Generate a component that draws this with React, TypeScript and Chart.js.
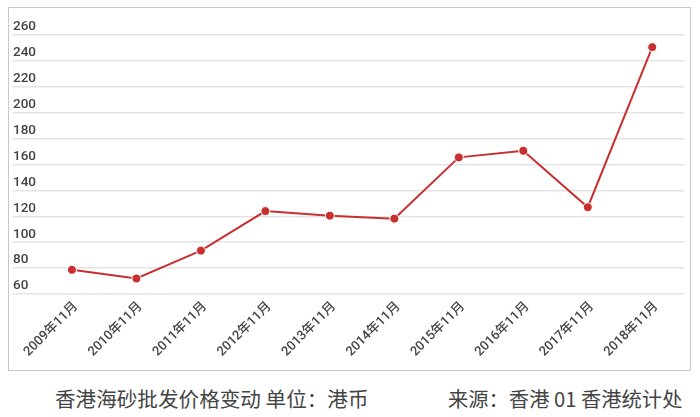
import React, { useEffect, useRef } from "react";
import { Chart, registerables } from "chart.js";

Chart.register(...registerables);

const categories = [
  "2009年11月", "2010年11月", "2011年11月", "2012年11月", "2013年11月",
  "2014年11月", "2015年11月", "2016年11月", "2017年11月", "2018年11月",
];
const prices = [78.7, 72, 93.5, 124, 120.5, 118.2, 165.5, 170.6, 127, 250.6];
const yMin = 60;
const yMax = 260;
const yStep = 20;
const captionLeft = "香港海砂批发价格变动 单位：港币";
const captionRight = "来源：香港 01 香港统计处";

export default function App() {
  const ref = useRef<HTMLCanvasElement | null>(null);

  useEffect(() => {
    if (!ref.current) return;
    const chart = new Chart(ref.current, {
      type: "line",
      data: {
        labels: categories,
        datasets: [
          {
            data: prices,
            borderColor: "#c8302f",
            backgroundColor: "#c8302f",
            borderWidth: 2,
            pointRadius: 4.5,
            pointBorderColor: "#ffffff",
            pointBorderWidth: 1,
            pointBackgroundColor: "#c8302f",
            tension: 0,
          },
        ],
      },
      options: {
        responsive: false,
        animation: false,
        layout: { padding: { left: 4, right: 3.7, top: 27, bottom: 0 } },
        plugins: { legend: { display: false }, tooltip: { enabled: false } },
        scales: {
          x: {
            offset: true,
            grid: { display: false, drawTicks: false },
            border: { display: false },
            afterFit: (s: any) => {
              s.height = 76;
            },
            ticks: {
              minRotation: 45,
              maxRotation: 45,
              padding: 5,
              labelOffset: 4,
              color: "#444444",
              font: { family: "Roboto, 'Noto Sans CJK SC'", size: 13, weight: "500" },
            },
          },
          y: {
            min: yMin,
            max: yMax,
            border: { display: false },
            grid: {
              color: "#e4e4e4",
              lineWidth: 1.5,
              drawTicks: true,
              tickLength: 27,
              tickColor: "#e4e4e4",
            },
            afterFit: (s: any) => {
              s.width = 26.7;
            },
            ticks: {
              stepSize: yStep,
              crossAlign: "far",
              labelOffset: -8,
              padding: 0,
              color: "#444444",
              font: { family: "Roboto", size: 13.5, weight: "500" },
            },
          },
        },
      },
    });
    return () => chart.destroy();
  }, []);

  return (
    <div style={{ position: "absolute", left: 0, top: 0, width: 700, height: 417, background: "#fff" }}>
      <div
        style={{
          position: "absolute",
          left: 8,
          top: 7,
          width: 683,
          height: 364,
          boxSizing: "border-box",
          border: "1px solid #c9c9c9",
        }}
      >
        <canvas ref={ref} width={681} height={362} style={{ position: "absolute", left: 0, top: 0, width: 681, height: 362 }} />
      </div>
      <div
        style={{
          position: "absolute",
          left: 55,
          top: 387,
          fontFamily: "'Noto Sans CJK SC', Roboto",
          fontSize: 20.6,
          lineHeight: "22px",
          color: "#444",
          whiteSpace: "nowrap",
        }}
      >
        {captionLeft}
      </div>
      <div
        style={{
          position: "absolute",
          left: 448,
          top: 387,
          fontFamily: "'Noto Sans CJK SC', Roboto",
          fontSize: 20.3,
          lineHeight: "22px",
          color: "#444",
          whiteSpace: "nowrap",
        }}
      >
        {captionRight}
      </div>
    </div>
  );
}
